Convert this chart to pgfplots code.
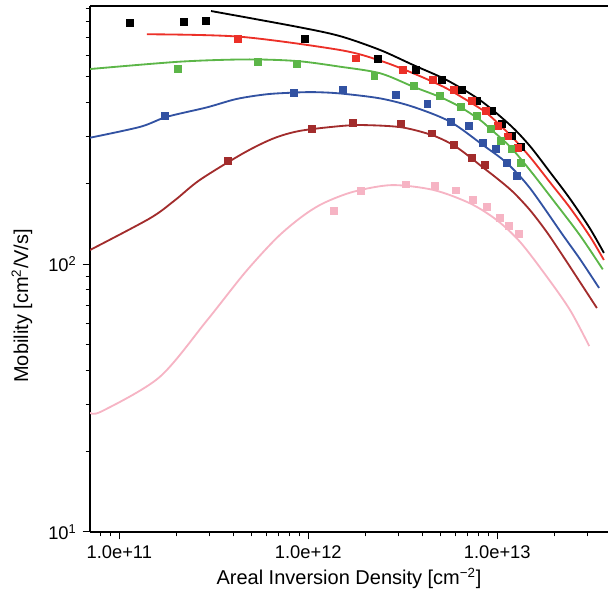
\documentclass[border=0pt]{standalone}
\usepackage{fontspec}
\setmainfont{Liberation Sans}
\usepackage{pgfplots}
\pgfplotsset{compat=1.18}
\usetikzlibrary{calc}

\definecolor{cblack}{RGB}{0,0,0}
\definecolor{cred}{RGB}{236,48,40}
\definecolor{cgreen}{RGB}{92,182,72}
\definecolor{cblue}{RGB}{50,82,162}
\definecolor{cdred}{RGB}{162,44,44}
\definecolor{cpink}{RGB}{246,180,196}

\begin{document}
\begin{tikzpicture}
\begin{axis}[
  scale only axis,
  width=310.8pt, height=315.6pt,
  xmode=log, ymode=log,
  xmin=7e10, xmax=3.86e13,
  ymin=10, ymax=918,
  axis x line*=box, axis y line*=left,
  xtick pos=left,
  tick align=outside,
  major tick length=4.5pt, minor tick length=2.6pt,
  xtick={1e11,1e12,1e13},
  xticklabels={1.0e+11,1.0e+12,1.0e+13},
  minor xtick={8e10,9e10,2e11,3e11,4e11,5e11,6e11,7e11,8e11,9e11,
    2e12,3e12,4e12,5e12,6e12,7e12,8e12,9e12,2e13,3e13},
  ytick={10,100},
  yticklabels={10\textsuperscript{1},10\textsuperscript{2}},
  minor ytick={20,30,40,50,60,70,80,90,200,300,400,500,600,700,800,900},
  tick style={black, line width=0.6pt},
  axis line style={line width=0.7pt},
  ticklabel style={font=\fontsize{11pt}{13pt}\selectfont},
  xlabel={Areal Inversion Density [cm\textsuperscript{−2}]},
  ylabel={Mobility [cm\textsuperscript{2}/V/s]},
  label style={font=\fontsize{12pt}{14pt}\selectfont},
  xlabel style={at={(rel axis cs:0.5,0)}, anchor=base, yshift=-31.8pt},
  ylabel style={at={(rel axis cs:0,0.43)}, anchor=center, yshift=40.8pt},
  every axis plot/.append style={line width=1.1pt},
  smooth, tension=0.5,
]
% ---- model curves ----
\addplot[cblack, no marks] coordinates {
 (3.06e11,879) (8.71e11,768) (1.47e12,709) (2.40e12,629) (3.59e12,553)
 (5.40e12,486) (8.10e12,409) (1.17e13,330) (1.49e13,275.5) (1.90e13,220.5)
 (2.43e13,175) (3.09e13,136) (3.67e13,110)};
\addplot[cred, no marks] coordinates {
 (1.40e11,720) (4.35e11,705) (1.47e12,629) (2.40e12,574) (3.59e12,515)
 (5.40e12,452) (8.10e12,381) (9.12e12,358) (1.17e13,303) (1.49e13,251)
 (1.90e13,202) (2.43e13,162) (3.09e13,127) (3.67e13,103.5)};
\addplot[cgreen, no marks] coordinates {
 (7.0e10,534) (2.10e11,569) (4.72e11,580) (8.71e11,572) (1.47e12,545)
 (2.40e12,515) (3.59e12,459) (4.98e12,420) (6.35e12,386) (8.10e12,345)
 (9.12e12,321) (1.17e13,274) (1.49e13,224) (1.98e13,173) (2.74e13,128)
 (3.62e13,95.5)};
\addplot[cblue, no marks] coordinates {
 (7.0e10,296) (1.29e11,325) (1.78e11,354) (2.90e11,384) (4.18e11,413)
 (6.03e11,430) (8.33e11,436) (1.06e12,438) (1.47e12,433) (2.40e12,415)
 (3.59e12,386) (5.62e12,340) (8.40e12,278) (1.125e13,238) (1.49e13,192)
 (2.23e13,128) (2.74e13,104.4) (3.46e13,81.4)};
\addplot[cdred, no marks] coordinates {
 (7.0e10,112.8) (1.45e11,148) (1.97e11,173) (2.67e11,206) (4.53e11,259)
 (6.53e11,294) (9.04e11,314) (1.47e12,327) (1.95e12,330) (3.09e12,324)
 (4.50e12,303) (5.85e12,278) (7.32e12,248) (8.10e12,234) (9.95e12,209)
 (1.21e13,186) (1.49e13,159) (1.83e13,131.6) (2.23e13,107) (2.74e13,85.7)
 (3.37e13,68.5)};
\addplot[cpink, no marks] coordinates {
 (7.0e10,27.9) (8.07e10,28.2) (1.63e11,37.8) (2.90e11,61.4) (4.62e11,92.8)
 (6.80e11,125) (9.23e11,150) (1.20e12,168.5) (1.73e12,186) (2.76e12,197)
 (4.59e12,189) (7.17e12,168.5) (9.93e12,146) (1.32e13,121) (1.83e13,89.7)
 (2.43e13,67.3) (3.07e13,49.4)};
% ---- measured points ----
\addplot[cblack, only marks, mark=square*, mark size=1.8pt] coordinates {
 (1.14e11,791) (2.21e11,800) (2.87e11,809) (9.61e11,691) (2.33e12,582)
 (3.70e12,530) (5.08e12,485) (6.48e12,446) (7.87e12,407) (9.34e12,372)
 (1.06e13,333) (1.20e13,301) (1.33e13,272.5)};
\addplot[cred, only marks, mark=square*, mark size=1.8pt] coordinates {
 (4.26e11,691) (1.79e12,585) (3.16e12,530) (4.55e12,485) (5.92e12,446)
 (7.32e12,407) (8.71e12,372) (1.01e13,327) (1.14e13,299) (1.29e13,270)};
\addplot[cgreen, only marks, mark=square*, mark size=1.8pt] coordinates {
 (2.04e11,534) (5.40e11,566) (8.74e11,556) (2.24e12,504) (3.63e12,462)
 (4.98e12,425) (6.40e12,385) (7.78e12,357) (9.23e12,318) (1.05e13,288)
 (1.19e13,268) (1.33e13,238)};
\addplot[cblue, only marks, mark=square*, mark size=1.8pt] coordinates {
 (1.75e11,357) (8.43e11,436) (1.53e12,446) (2.90e12,426) (4.28e12,395)
 (5.67e12,338) (7.06e12,327) (8.43e12,282) (9.84e12,268) (1.13e13,237.5)
 (1.27e13,213)};
\addplot[cdred, only marks, mark=square*, mark size=1.8pt] coordinates {
 (3.75e11,243) (1.05e12,318) (1.73e12,337) (3.09e12,332) (4.50e12,307)
 (5.88e12,278) (7.32e12,248) (8.64e12,233.5)};
\addplot[cpink, only marks, mark=square*, mark size=1.8pt] coordinates {
 (1.37e12,158) (1.91e12,187) (3.29e12,198) (4.67e12,195) (6.07e12,188)
 (7.46e12,173) (8.85e12,163.5) (1.03e13,149) (1.16e13,139) (1.30e13,129.4)};
\coordinate (bl) at (rel axis cs:0,0);
\coordinate (tr) at (rel axis cs:1,1);
\end{axis}
\pgfresetboundingbox
\path[use as bounding box] ($(bl)+(-54pt,-37.8pt)$) rectangle ($(tr)+(0.6pt,3.6pt)$);
\end{tikzpicture}
\end{document}
